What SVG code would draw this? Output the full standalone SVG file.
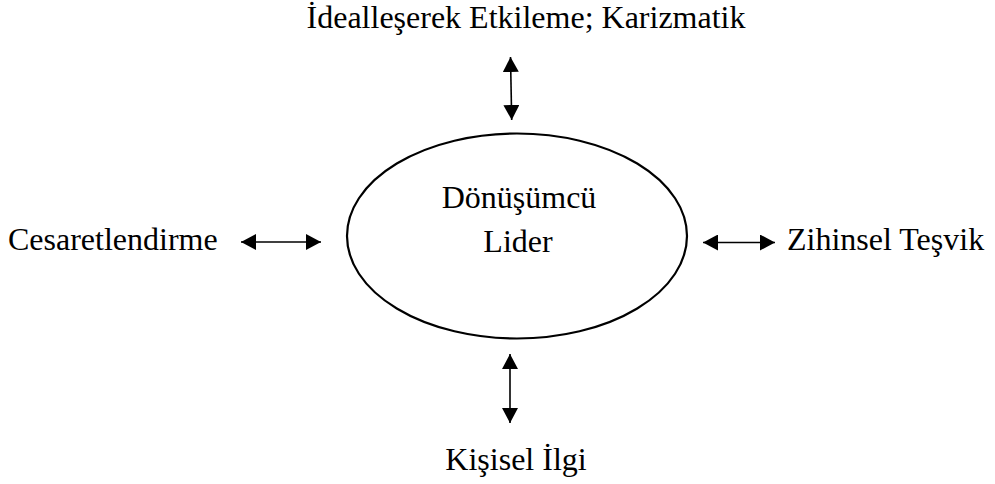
<svg xmlns="http://www.w3.org/2000/svg" width="995" height="484" viewBox="0 0 995 484">
<style>
text{font-family:"Liberation Serif","Times New Roman",serif;font-size:32px;fill:#000}
.c{stroke:#000;stroke-width:1.6;fill:none}
</style>
<defs>
<marker id="ah" viewBox="0 0 15 16" refX="15" refY="8" markerWidth="15" markerHeight="16" markerUnits="userSpaceOnUse" orient="auto-start-reverse">
<path d="M0,0 L15,8 L0,16 Z" fill="#000"/>
</marker>
</defs>
<rect width="995" height="484" fill="#fff"/>
<g id="center">
<ellipse cx="517" cy="236" rx="170" ry="102.5" fill="none" stroke="#000" stroke-width="2.2"/>
<text x="519" y="208" text-anchor="middle">Dönüşümcü</text>
<text x="518" y="252" text-anchor="middle">Lider</text>
</g>
<g id="top"><text x="526" y="28" text-anchor="middle">İdealleşerek Etkileme; Karizmatik</text></g>
<g id="left"><text x="8" y="250">Cesaretlendirme</text></g>
<g id="right"><text x="787" y="250">Zihinsel Teşvik</text></g>
<g id="bottom"><text x="516" y="470" text-anchor="middle">Kişisel İlgi</text></g>
<g id="connectors">
<line class="c" x1="510.5" y1="57" x2="511.7" y2="120" marker-start="url(#ah)" marker-end="url(#ah)"/>
<line class="c" x1="241" y1="242" x2="321" y2="242" marker-start="url(#ah)" marker-end="url(#ah)"/>
<line class="c" x1="703" y1="242.5" x2="775" y2="242.5" marker-start="url(#ah)" marker-end="url(#ah)"/>
<line class="c" x1="510" y1="354" x2="510" y2="423" marker-start="url(#ah)" marker-end="url(#ah)"/>
</g>
</svg>
